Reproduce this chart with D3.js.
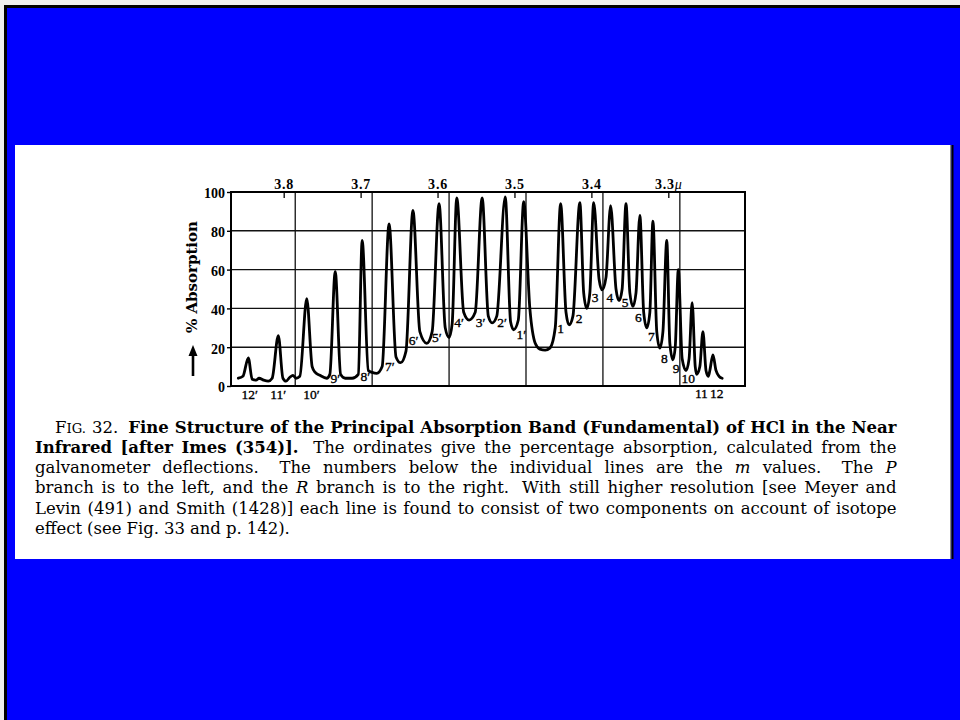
<!DOCTYPE html>
<html>
<head>
<meta charset="utf-8">
<script src="https://cdn.jsdelivr.net/npm/d3@7"></script>
<style>
  html, body { margin: 0; padding: 0; background: #eeeeee; overflow: hidden; }
  svg { display: block; }
</style>
</head>
<body>
<svg id="chart" width="960" height="720"></svg>
<script>
// HCl fundamental band: wavelength (micron) vs. percent absorption
const spectrum = [
  [3.859, 4], [3.853, 5], [3.846, 14.5], [3.841, 3.5], [3.836, 3], [3.832, 4],
  [3.826, 3], [3.820, 2.5], [3.815, 4], [3.807, 26], [3.801, 4], [3.797, 2.5],
  [3.792, 4.5], [3.788, 5.5], [3.784, 4], [3.779, 5], [3.770, 45], [3.763, 10],
  [3.759, 7], [3.753, 5.5], [3.744, 4], [3.740, 6], [3.733, 59], [3.726, 6],
  [3.720, 4], [3.711, 4], [3.703, 6], [3.698, 75], [3.690, 8], [3.685, 7],
  [3.679, 6.5], [3.672, 10], [3.663, 83.5], [3.654, 15], [3.648, 12], [3.641, 18],
  [3.632, 90.5], [3.623, 28], [3.614, 22], [3.607, 28], [3.598, 94], [3.590, 30],
  [3.585, 25], [3.581, 32], [3.575, 97], [3.566, 38], [3.559, 34], [3.551, 38],
  [3.542, 97], [3.534, 36], [3.529, 32.5], [3.523, 36], [3.512, 97.5], [3.505, 33],
  [3.501, 29], [3.495, 34], [3.488, 95], [3.480, 40], [3.473, 22], [3.467, 19],
  [3.460, 18.5], [3.454, 19.5], [3.447, 30], [3.440, 94], [3.433, 38], [3.429, 31.5],
  [3.424, 36], [3.415, 94.5], [3.410, 48], [3.406, 40], [3.402, 48], [3.397, 94.5],
  [3.390, 55], [3.386, 49.5], [3.381, 56], [3.375, 93], [3.368, 50], [3.364, 44],
  [3.360, 50], [3.355, 94], [3.350, 48], [3.346, 41], [3.342, 48], [3.337, 88],
  [3.332, 38], [3.328, 30], [3.324, 38], [3.320, 85], [3.315, 28], [3.311, 19.5],
  [3.307, 28], [3.302, 75], [3.298, 22], [3.294, 13.5], [3.291, 20], [3.287, 60],
  [3.282, 14], [3.277, 8], [3.273, 14], [3.269, 43], [3.265, 10], [3.263, 6],
  [3.259, 10], [3.255, 28], [3.251, 8], [3.248, 5], [3.246, 8], [3.242, 16],
  [3.238, 8], [3.234, 5], [3.230, 4]
];

// wavelength scale labels along the top edge
const tickLambda = [3.8, 3.7, 3.6, 3.5, 3.4, 3.3];
const tickLabels = ["3.8", "3.7", "3.6", "3.5", "3.4", "3.3"];
const unitLabel = "\u03bc";
// vertical rulings of the chart paper
const gridLambda = [3.785, 3.685, 3.585, 3.485, 3.385, 3.285];
// percent absorption ticks
const yTicks = [0, 20, 40, 60, 80, 100];

// m values of the individual rotation lines (P branch primed, R branch plain)
const lineNames = ["12\u2032", "11\u2032", "10\u2032", "9\u2032", "8\u2032", "7\u2032", "6\u2032",
  "5\u2032", "4\u2032", "3\u2032", "2\u2032", "1\u2032",
  "1", "2", "3", "4", "5", "6", "7", "8", "9", "10", "11", "12"];
const lineLambda = [3.844, 3.807, 3.764, 3.733, 3.694, 3.662, 3.631,
  3.601, 3.572, 3.544, 3.516, 3.491,
  3.440, 3.416, 3.395, 3.376, 3.356, 3.339, 3.322, 3.305, 3.290, 3.274, 3.257, 3.237];
const linePct = [-4.1, -4.1, -4.1, 4.1, 5.2, 10.1, 23.7,
  25.3, 33, 33, 33, 26.8,
  29.9, 35.1, 45.6, 45.6, 43.3, 35.6, 25.8, 14.4, 9.0, 4.1, -3.9, -3.9];

// caption runs: [text, style] with style b = bold, i = italic, sc = small caps
const captionLines = [
  [["Fig.", "sc"], [" 32.", ""], ["  Fine Structure of the Principal Absorption Band (Fundamental) of HCl in the Near", "b"]],
  [["Infrared [after Imes (354)].", "b"], ["  The ordinates give the percentage absorption, calculated from the", ""]],
  [["galvanometer deflections.  The numbers below the individual lines are the ", ""], ["m", "i"], [" values.  The ", ""], ["P", "i"]],
  [["branch is to the left, and the ", ""], ["R", "i"], [" branch is to the right.  With still higher resolution [see Meyer and", ""]],
  [["Levin (491) and Smith (1428)] each line is found to consist of two components on account of isotope", ""]],
  [["effect (see Fig. 33 and p. 142).", ""]]
];

const svg = d3.select("#chart");

// slide backdrop
svg.append("rect").attr("x", 5.5).attr("y", 6.5).attr("width", 1000).attr("height", 1000)
  .attr("fill", "#0000ff").attr("stroke", "#000").attr("stroke-width", 3);

// white page panel with a dark edge on its right
svg.append("rect").attr("x", 15).attr("y", 145).attr("width", 935).attr("height", 414).attr("fill", "#fff");
svg.append("rect").attr("x", 950).attr("y", 145).attr("width", 1.5).attr("height", 414).attr("fill", "#888");
svg.append("rect").attr("x", 951.5).attr("y", 145).attr("width", 2).attr("height", 414).attr("fill", "#000");

const M = { left: 231, right: 745, top: 192, bottom: 386 };
const x = d3.scaleLinear().domain([3.8685, 3.2003]).range([M.left, M.right]);
const y = d3.scaleLinear().domain([0, 100]).range([M.bottom, M.top]);

const plot = svg.append("g");

// horizontal rulings
plot.selectAll("line.h").data(yTicks.filter(v => v > 0 && v < 100)).join("line")
  .attr("class", "h")
  .attr("x1", M.left).attr("x2", M.right)
  .attr("y1", d => y(d)).attr("y2", d => y(d))
  .attr("stroke", "#111").attr("stroke-width", 1.4);

// vertical rulings
plot.selectAll("line.v").data(gridLambda).join("line")
  .attr("class", "v")
  .attr("x1", d => x(d)).attr("x2", d => x(d))
  .attr("y1", M.top).attr("y2", M.bottom)
  .attr("stroke", "#111").attr("stroke-width", 1.3);

// frame
plot.append("rect")
  .attr("x", M.left).attr("y", M.top)
  .attr("width", M.right - M.left).attr("height", M.bottom - M.top)
  .attr("fill", "none").attr("stroke", "#000").attr("stroke-width", 2);

// left axis: percent absorption
const yAxis = d3.axisLeft(y).tickValues(yTicks).tickSize(4).tickPadding(2);
const ya = svg.append("g").attr("transform", `translate(${M.left},0)`).call(yAxis)
  .attr("font-family", "'Liberation Serif', serif").attr("font-size", 14).attr("font-weight", "bold");
ya.select(".domain").remove();
ya.selectAll(".tick line").attr("stroke", "#000").attr("stroke-width", 1.4);
ya.selectAll(".tick text").attr("fill", "#000").attr("dy", "0.42em");

// top axis: wavelength in microns
const xAxis = d3.axisTop(x).tickValues(tickLambda).tickSizeInner(-6).tickSizeOuter(0).tickPadding(3)
  .tickFormat((d, i) => tickLabels[i]);
const xa = svg.append("g").attr("transform", `translate(0,${M.top})`).call(xAxis)
  .attr("font-family", "'Liberation Serif', serif").attr("font-size", 14).attr("font-weight", "bold");
xa.select(".domain").remove();
xa.selectAll(".tick line").attr("stroke", "#000").attr("stroke-width", 1.3);
xa.selectAll(".tick text").attr("fill", "#000").attr("letter-spacing", 0.8);
xa.selectAll(".tick text").filter((d, i) => i === tickLambda.length - 1)
  .append("tspan").attr("font-style", "italic").attr("font-weight", "normal").text(unitLabel);

// absorption trace
const line = d3.line()
  .x(d => x(d[0]))
  .y(d => y(d[1]))
  .curve(d3.curveMonotoneX);
plot.append("path")
  .datum(spectrum)
  .attr("d", line)
  .attr("fill", "none")
  .attr("stroke", "#000")
  .attr("stroke-width", 2.8)
  .attr("stroke-linejoin", "round")
  .attr("stroke-linecap", "round");

// m value labels
svg.append("g")
  .attr("font-family", "'Liberation Serif', serif")
  .attr("font-size", 13.5)
  .attr("fill", "#000")
  .attr("stroke", "#000")
  .attr("stroke-width", 0.35)
  .selectAll("text").data(lineNames).join("text")
  .attr("x", (d, i) => x(lineLambda[i]))
  .attr("y", (d, i) => y(linePct[i]))
  .attr("text-anchor", "middle")
  .attr("dy", "0.35em")
  .text(d => d);

// y-axis title with upward arrow
svg.append("text")
  .attr("transform", "translate(197,333) rotate(-90)")
  .attr("font-family", "'DejaVu Serif', serif")
  .attr("font-size", 15)
  .attr("font-weight", "bold")
  .attr("fill", "#000")
  .text("% Absorption");
svg.append("line")
  .attr("x1", 193).attr("x2", 193).attr("y1", 376).attr("y2", 355)
  .attr("stroke", "#000").attr("stroke-width", 2.6);
svg.append("path")
  .attr("d", "M193,345 L188.5,356 L197.5,356 Z")
  .attr("fill", "#000");

// caption, fully justified
const capFont = "'DejaVu Serif', serif";
const capSize = 16.5;
const capRight = 896.5;
const capTop = 432.5;
const capLead = 20.25;

function tokenize(runs) {
  const words = [], gaps = [];
  let cur = null, pending = 0;
  runs.forEach(([txt, st]) => {
    txt.split(/( +)/).forEach(part => {
      if (part === "") return;
      if (/^ +$/.test(part)) {
        if (cur) { words.push(cur); cur = null; }
        pending += part.length;
      } else {
        if (!cur) {
          if (words.length) gaps.push(pending > 1 ? 1.7 : 1);
          pending = 0;
          cur = [];
        }
        cur.push([part, st]);
      }
    });
  });
  if (cur) words.push(cur);
  return { words, gaps };
}

const cap = svg.append("g")
  .attr("font-family", capFont)
  .attr("font-size", capSize)
  .attr("fill", "#000");

captionLines.forEach((runs, li) => {
  const { words, gaps } = tokenize(runs);
  const baseY = capTop + li * capLead;
  const left = li === 0 ? 55 : 35;
  const nodes = words.map(w => {
    const t = cap.append("text").attr("y", baseY);
    w.forEach(([txt, st]) => {
      if (st === "sc") {
        t.append("tspan").text(txt[0]);
        t.append("tspan").attr("font-size", capSize * 0.8).text(txt.slice(1).toUpperCase());
      } else {
        const s = t.append("tspan").text(txt);
        if (st === "b") s.attr("font-weight", "bold");
        if (st === "i") s.attr("font-style", "italic");
      }
    });
    return t;
  });
  let widths = nodes.map(n => n.node().getComputedTextLength());
  const weight = d3.sum(gaps);
  const last = li === captionLines.length - 1;
  const minGap = capSize * 0.22;
  // tighten glyphs slightly when a line would otherwise overrun the measure
  const room = capRight - left - minGap * weight;
  const total = d3.sum(widths);
  if (!last && total > room) {
    const k = room / total;
    nodes.forEach((n, i) => n.attr("textLength", widths[i] * k).attr("lengthAdjust", "spacingAndGlyphs"));
    widths = widths.map(w => w * k);
  }
  const unit = last ? capSize * 0.3 : (capRight - left - d3.sum(widths)) / weight;
  let cx = left;
  nodes.forEach((n, i) => {
    n.attr("x", cx);
    cx += widths[i] + (i < gaps.length ? gaps[i] * unit : 0);
  });
});
</script>
</body>
</html>
